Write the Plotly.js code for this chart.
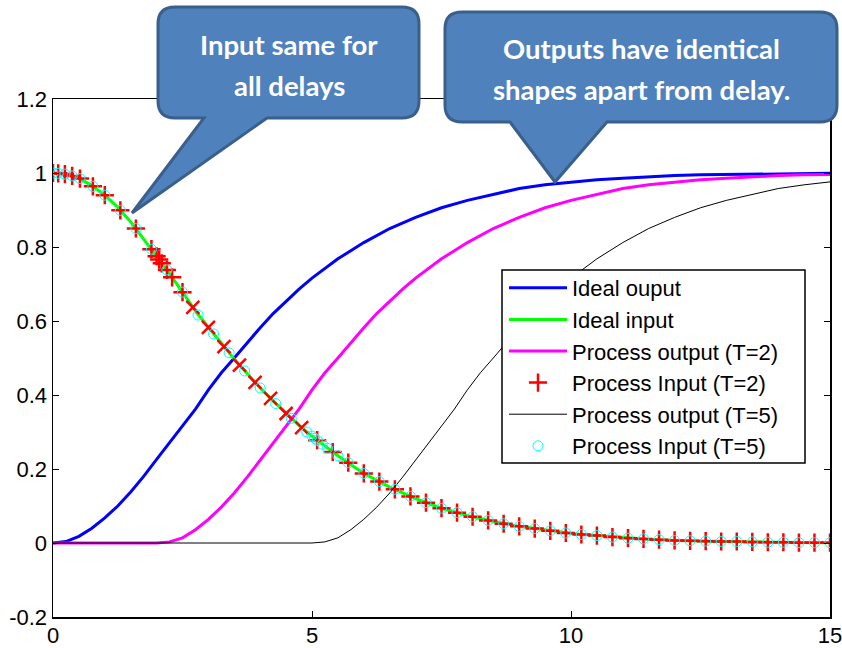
<!DOCTYPE html>
<html><head><meta charset="utf-8">
<script src="https://cdn.plot.ly/plotly-3.0.1.min.js"></script>
<style>body{margin:0;background:#fff;}#chart{width:842px;height:648px;}</style>
</head><body><div id="chart"></div>
<script>
// ---- data ----
const tIdeal = [0,0.25,0.5,0.75,1,1.25,1.5,1.75,2,2.25,2.5,2.75,3,3.25,3.5,3.75,4,4.25,4.5,4.75,5,
  5.5,6,6.5,7,7.5,8,8.5,9,9.5,10,10.5,11,11.5,12,12.5,13,13.5,14,14.5,15];
const idealInput = [1.000,0.996,0.986,0.966,0.940,0.907,0.868,0.822,0.775,0.728,0.678,0.627,0.583,0.540,0.497,0.458,0.419,0.384,0.350,0.318,0.289,
  0.236,0.188,0.151,0.120,0.094,0.074,0.058,0.045,0.035,0.026,0.020,0.014,0.010,0.007,0.005,0.004,0.003,0.002,0.001,0.001];
const idealOutput = [0,0.004,0.018,0.040,0.068,0.100,0.138,0.180,0.226,0.272,0.315,0.362,0.414,0.460,0.500,0.542,0.582,0.620,0.654,0.686,0.716,
  0.768,0.812,0.850,0.880,0.906,0.926,0.943,0.958,0.968,0.976,0.982,0.986,0.990,0.993,0.995,0.996,0.997,0.998,0.999,0.999];

const tOut2 = [0,2,2.25,2.5,2.75,3,3.25,3.5,3.75,4,4.25,4.5,4.75,5,5.25,5.5,5.75,6,6.25,6.5,6.75,7,
  7.5,8,8.5,9,9.5,10,10.5,11,11.5,12,12.5,13,13.5,14,14.5,15];
const out2 = [0,0,0.003,0.014,0.036,0.064,0.097,0.135,0.178,0.224,0.270,0.315,0.362,0.414,0.460,0.500,0.542,0.582,0.620,0.654,0.686,0.716,
  0.768,0.812,0.850,0.880,0.906,0.926,0.943,0.958,0.968,0.976,0.982,0.986,0.990,0.993,0.995,0.996];

const tOut5 = [0,5,5.25,5.5,5.75,6,6.25,6.5,6.75,7,7.25,7.5,7.75,8,8.25,8.5,8.75,9,9.25,9.5,9.75,10,
  10.5,11,11.5,12,12.5,13,13.5,14,14.5,15];
const out5 = [0,0,0.003,0.014,0.036,0.064,0.097,0.135,0.178,0.224,0.270,0.315,0.362,0.414,0.460,0.500,0.542,0.582,0.620,0.654,0.686,0.716,
  0.768,0.812,0.850,0.880,0.906,0.926,0.943,0.958,0.968,0.976];

const tIn2 = [0,0.1,0.23,0.37,0.52,0.77,1.0,1.3,1.6,1.9,2.0,2.05,2.1,2.2,2.3,2.5,
  2.7,3.0,3.3,3.6,3.9,4.2,4.5,4.8,5.1,5.4,5.7,6.0,6.3,6.6,6.9,7.2,7.5,7.8,8.1,8.4,8.7,9.0,9.3,9.6,9.9,
  10.2,10.5,10.8,11.1,11.4,11.7,12.0,12.3,12.6,12.9,13.2,13.5,13.8,14.1,14.4,14.7,15.0];
const in2 = [1.000,0.999,0.997,0.992,0.985,0.964,0.940,0.899,0.850,0.794,0.775,0.766,0.756,0.738,0.718,0.678,
  0.637,0.583,0.531,0.481,0.434,0.391,0.350,0.312,0.278,0.246,0.217,0.188,0.166,0.145,0.126,0.109,0.094,0.082,0.071,0.061,0.052,0.045,0.039,0.033,0.027,
  0.023,0.020,0.016,0.013,0.011,0.009,0.007,0.006,0.005,0.004,0.004,0.003,0.002,0.002,0.001,0.001,0.001];

const tIn5 = [0,0.1,0.23,0.37,0.52,0.77,1.0,1.3,1.6,1.9,2.2,2.5,2.8,3.1,3.4,3.7,4.0,4.3,4.6,4.9,
  5.0,5.05,5.1,5.2,5.3,5.5,5.7,
  6.0,6.3,6.6,6.9,7.2,7.5,7.8,8.1,8.4,8.7,9.0,9.3,9.6,9.9,
  10.2,10.5,10.8,11.1,11.4,11.7,12.0,12.3,12.6,12.9,13.2,13.5,13.8,14.1,14.4,14.7,15.0];
const in5 = [1.000,0.999,0.997,0.992,0.985,0.964,0.940,0.899,0.850,0.794,0.738,0.678,0.616,0.565,0.514,0.465,0.419,0.377,0.337,0.300,
  0.289,0.283,0.278,0.267,0.256,0.236,0.217,
  0.188,0.166,0.145,0.126,0.109,0.094,0.082,0.071,0.061,0.052,0.045,0.039,0.033,0.027,
  0.023,0.020,0.016,0.013,0.011,0.009,0.007,0.006,0.005,0.004,0.004,0.003,0.002,0.002,0.001,0.001,0.001];

const seriesNames = ['Ideal ouput','Ideal input','Process output (T=2)','Process Input (T=2)','Process output (T=5)','Process Input (T=5)'];
const xTickVals = [0,5,10,15];
const xTickText = ['0','5','10','15'];
const yTickVals = [-0.2,0,0.2,0.4,0.6,0.8,1,1.2];
const yTickText = ['-0.2','0','0.2','0.4','0.6','0.8','1','1.2'];
const callout1Lines = ['Input same for','all delays'];
const callout2Lines = ['Outputs have identical','shapes apart from delay.'];

// ---- chart ----
const L = 53, R = 830, T = 99, B = 617;
const PX = v => (v - L) / (R - L);
const PY = v => (B - v) / (B - T);

function calloutPath(l, t, r, b, rad, tl, tr, tipx, tipy) {
  const p = (x, y) => PX(x).toFixed(5) + ',' + PY(y).toFixed(5);
  return 'M' + p(l + rad, t) + ' L' + p(r - rad, t) + ' Q' + p(r, t) + ' ' + p(r, t + rad) +
    ' L' + p(r, b - rad) + ' Q' + p(r, b) + ' ' + p(r - rad, b) +
    ' L' + p(tr, b) + ' L' + p(tipx, tipy) + ' L' + p(tl, b) +
    ' L' + p(l + rad, b) + ' Q' + p(l, b) + ' ' + p(l, b - rad) +
    ' L' + p(l, t + rad) + ' Q' + p(l, t) + ' ' + p(l + rad, t) + ' Z';
}

const redSymbols = tIn2.map(t => (t > 2.6 && t < 4.95) ? 'x-thin' : 'cross-thin');

const traces = [
  {x: tIdeal, y: idealOutput, name: seriesNames[0], mode: 'lines', line: {color: '#0000FF', width: 3}, legendgroup: 'a'},
  {x: tIdeal, y: idealInput, name: seriesNames[1], mode: 'lines', line: {color: '#00FF00', width: 3}, legendgroup: 'b'},
  {x: tOut2, y: out2, name: seriesNames[2], mode: 'lines', line: {color: '#FF00FF', width: 3}, legendgroup: 'c'},
  {x: tIn2, y: in2, name: seriesNames[3], mode: 'markers',
   marker: {symbol: redSymbols, size: 13, color: '#FF0000', line: {color: '#FF0000', width: 2.5}}, legendgroup: 'd'},
  {x: tOut5, y: out5, name: seriesNames[4], mode: 'lines', line: {color: '#000000', width: 1}, legendgroup: 'e'},
  {x: tIn5, y: in5, name: seriesNames[5], mode: 'markers',
   marker: {symbol: 'circle-open', size: 10, color: '#00FFFF', line: {color: '#00FFFF', width: 1}}, legendgroup: 'f'}
];

const tickFont = {family: 'Liberation Sans, Arial, sans-serif', size: 22, color: '#000'};
const calloutFont = {family: 'Lato, sans-serif', size: 27.5, color: '#FFFFFF'};

const layout = {
  width: 842, height: 648,
  margin: {l: L, r: 842 - R, t: T, b: 648 - B, pad: 0},
  paper_bgcolor: '#fff', plot_bgcolor: '#fff',
  showlegend: true,
  legend: {
    x: PX(504), y: PY(267), xanchor: 'left', yanchor: 'top',
    bgcolor: 'rgba(0,0,0,0)', borderwidth: 0,
    font: {family: 'Liberation Sans, Arial, sans-serif', size: 22, color: '#000'},
    traceorder: 'grouped', tracegroupgap: 0, itemwidth: 58
  },
  xaxis: {
    range: [0, 15], tickvals: xTickVals, ticktext: xTickText,
    ticks: 'inside', ticklen: 6, tickcolor: '#000', tickwidth: 1,
    showline: true, linecolor: '#000', linewidth: 1.5, mirror: 'ticks',
    showgrid: false, zeroline: false, tickfont: tickFont, fixedrange: true,
    ticklabeloverflow: 'allow', ticklabelstandoff: -2
  },
  yaxis: {
    range: [-0.2, 1.2], tickvals: yTickVals, ticktext: yTickText,
    ticks: 'inside', ticklen: 6, tickcolor: '#000', tickwidth: 1,
    showline: true, linecolor: '#000', linewidth: 1.5, mirror: 'ticks',
    showgrid: false, zeroline: false, tickfont: tickFont, fixedrange: true,
    ticklabeloverflow: 'allow'
  },
  shapes: [
    {type: 'rect', xref: 'paper', yref: 'paper', layer: 'above',
     x0: PX(502), x1: PX(805), y0: PY(463), y1: PY(270),
     fillcolor: '#FFFFFF', line: {color: '#000000', width: 1.5}},
    {type: 'path', xref: 'paper', yref: 'paper', layer: 'above',
     path: calloutPath(158, 7, 419, 118, 17, 204, 267, 132, 213),
     fillcolor: '#4F81BD', line: {color: '#3A5F8B', width: 3}},
    {type: 'path', xref: 'paper', yref: 'paper', layer: 'above',
     path: calloutPath(445, 12, 837, 122, 17, 510, 607, 555, 182),
     fillcolor: '#4F81BD', line: {color: '#3A5F8B', width: 3}}
  ],
  annotations: [
    {text: '<b>' + callout1Lines[0] + '</b>', x: PX(289), y: PY(44), xref: 'paper', yref: 'paper', showarrow: false, xanchor: 'center', yanchor: 'middle', font: calloutFont},
    {text: '<b>' + callout1Lines[1] + '</b>', x: PX(289), y: PY(86), xref: 'paper', yref: 'paper', showarrow: false, xanchor: 'center', yanchor: 'middle', font: calloutFont},
    {text: '<b>' + callout2Lines[0] + '</b>', x: PX(641), y: PY(49), xref: 'paper', yref: 'paper', showarrow: false, xanchor: 'center', yanchor: 'middle', font: calloutFont},
    {text: '<b>' + callout2Lines[1] + '</b>', x: PX(641), y: PY(89), xref: 'paper', yref: 'paper', showarrow: false, xanchor: 'center', yanchor: 'middle', font: calloutFont}
  ]
};

Plotly.newPlot('chart', traces, layout, {staticPlot: true, displayModeBar: false});
</script>
</body></html>
